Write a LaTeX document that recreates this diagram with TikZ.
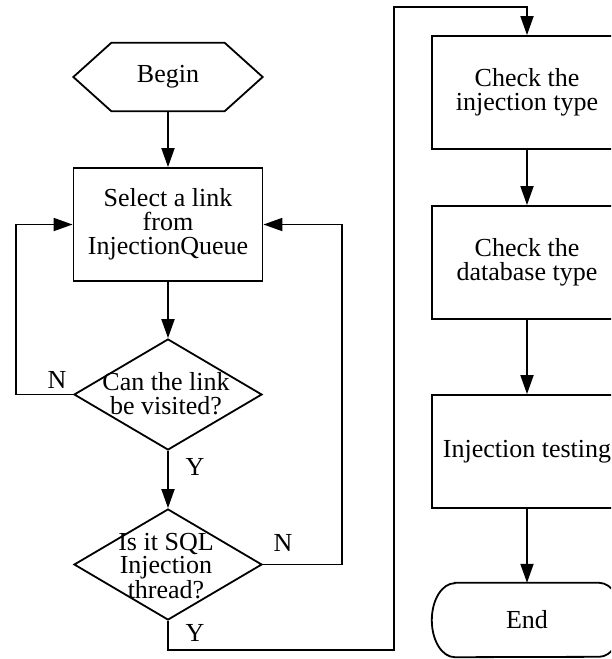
\documentclass[tikz,border=0pt]{standalone}
\usepackage{fontspec}
\setmainfont{Liberation Serif}
\usetikzlibrary{arrows.meta,shapes.geometric,calc}
\begin{document}
\begin{tikzpicture}[x=1pt,y=1pt,
  every node/.style={font=\fontsize{26}{24}\selectfont, inner sep=0pt},
  ln/.style={line width=1.8pt, line join=miter},
  arr/.style={ln, -{Triangle[length=19pt,width=13pt]}},
  box/.style={draw, ln, minimum width=190pt, minimum height=113pt, align=center},
  decision/.style={diamond, draw, ln, minimum width=188pt, minimum height=111pt},
  txt/.style={align=center},
]
\useasboundingbox (0,0) rectangle (611,-659);
\clip (0,0) rectangle (611,-659);

% start terminal (hexagon)
\node[minimum width=189pt, minimum height=68pt] (begin) at (168,-77) {};
\draw[ln] (begin.west) -- ($(begin.north west)+(38,0)$) -- ($(begin.north east)+(-38,0)$)
  -- (begin.east) -- ($(begin.south east)+(-38,0)$) -- ($(begin.south west)+(38,0)$) -- cycle;
\node[txt] (begintxt) at (begin.center) {Begin};

% left column
\node[box, minimum width=189pt] (sel) at (168,-224.5) {Select a link\\from\\InjectionQueue};
\node[decision] (d1) at (168,-394.5) {};
\node[txt] (d1txt) at (166,-394) {Can the link\\be visited?};
\node[decision] (d2) at (168,-564.5) {};
\node[txt, font=\fontsize{26}{23}\selectfont] (d2txt) at (166,-566) {Is it SQL\\Injection\\thread?};

% right column
\node[box] (r1) at (527,-92.5) {Check the\\injection type};
\node[box] (r2) at (527,-262.5) {Check the\\database type};
\node[box] (r3) at (527,-451.5) {Injection testing};
\node[minimum width=190pt, minimum height=74pt] (endn) at (527,-620) {};
\draw[ln] ([xshift=23pt]endn.north west) -- ([xshift=-23pt]endn.north east)
  arc[start angle=90, end angle=-90, x radius=23pt, y radius=37pt]
  -- ([xshift=23pt]endn.south west)
  arc[start angle=270, end angle=90, x radius=23pt, y radius=37pt] -- cycle;
\node[txt] (endtxt) at (endn.center) {End};

% routing points
\coordinate (lx) at (16,-394.5);
\coordinate (rx) at (342,-564.5);
\coordinate (by) at (168,-650);
\coordinate (bx) at (394,-650);
\coordinate (tx) at (394,-7);

% connectors
\draw[arr] (begin.south) -- (sel.north);
\draw[arr] (sel.south) -- (d1.north);
\draw[arr] (d1.south) -- (d2.north);
\draw[arr] (d1.west) -- (lx) |- (sel.west);
\draw[arr] (d2.east) -- (rx) |- (sel.east);
\draw[arr] (d2.south) -- (by) -- (bx) -- (tx) -| (r1.north);
\draw[arr] (r1.south) -- (r2.north);
\draw[arr] (r2.south) -- (r3.north);
\draw[arr] (r3.south) -- (endn.north);

% branch labels
\node (n1) at (57,-380) {N};
\node (n2) at (283,-543) {N};
\node (y1) at (195,-467) {Y};
\node (y2) at (195,-633) {Y};
\end{tikzpicture}
\end{document}
